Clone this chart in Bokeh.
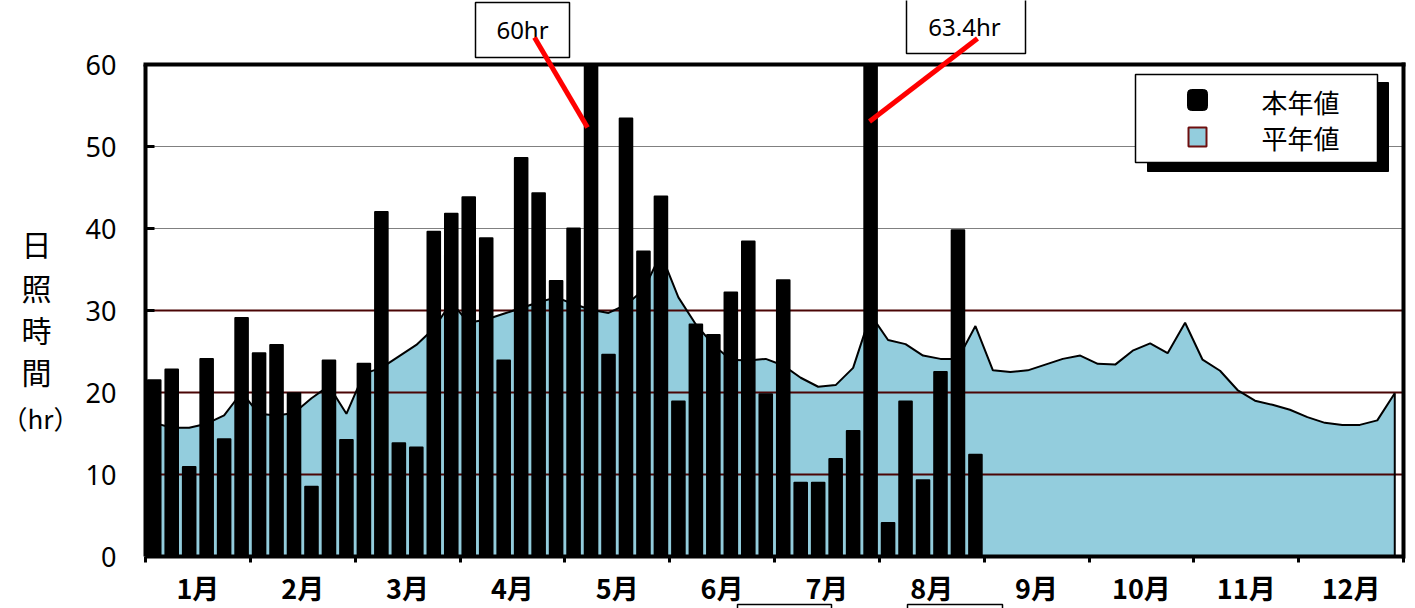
from bokeh.plotting import figure
from bokeh.models import Range1d, FixedTicker, BoxAnnotation, Label, Arrow
from bokeh.embed import file_html
from bokeh.resources import INLINE

# ---------------- data ----------------
months = ["1月", "2月", "3月", "4月", "5月", "6月", "7月", "8月", "9月", "10月", "11月", "12月"]
periods_per_month = 6
yticks = [0, 10, 20, 30, 40, 50, 60]
gray_grid = [40, 50]
red_grid = [10, 20, 30]

# 本年値 (this year, 半旬 sunshine hours, Jan-Aug)
actual = [21.5, 22.8, 10.9, 24.1, 14.3, 29.1,
          24.8, 25.8, 19.9, 8.5, 23.9, 14.2,
          23.5, 42.0, 13.8, 13.3, 39.6, 41.8,
          43.8, 38.8, 23.9, 48.6, 44.3, 33.6,
          40.0, 60.0, 24.6, 53.4, 37.2, 43.9,
          18.9, 28.3, 27.0, 32.2, 38.4, 19.8,
          33.7, 9.0, 9.0, 11.9, 15.3, 63.4,
          4.1, 18.9, 9.3, 22.5, 39.8, 12.4]

# 平年値 (normal values, 72 half-decade periods)
normal = [16.3, 15.7, 15.7, 16.2, 17.2, 20.0,
          17.4, 17.2, 17.5, 19.3, 20.8, 17.4,
          22.3, 23.0, 24.4, 25.8, 27.8, 31.0,
          28.5, 28.9, 29.6, 30.3, 31.0, 31.6,
          30.8, 30.1, 29.7, 30.7, 32.5, 36.9,
          31.6, 28.3, 25.8, 24.0, 23.9, 24.1,
          23.3, 21.8, 20.7, 20.9, 23.0, 29.5,
          26.4, 25.9, 24.5, 24.1, 24.1, 28.1,
          22.7, 22.5, 22.7, 23.4, 24.1, 24.5,
          23.5, 23.4, 25.1, 26.0, 24.8, 28.5,
          24.0, 22.65, 20.3, 19.0, 18.5, 17.9,
          17.0, 16.3, 16.05, 16.05, 16.6, 19.9]

callouts = ["60hr", "63.4hr"]
legend_names = ["本年値", "平年値"]
ytitle = ["日", "照", "時", "間", "（hr）"]

# ---------------- layout helpers (page pixel -> data) ----------------
W, H = 1415, 608
n_periods = len(normal)
YMAX = 60
FRAME_L, FRAME_T, FRAME_W, FRAME_H = 145, 64, 1258, 492
DXU = FRAME_W / n_periods
DYU = FRAME_H / YMAX
def px(x_page):
    return (x_page - FRAME_L) / DXU
def py(y_page):
    return (FRAME_T + FRAME_H - y_page) / DYU

AREA = "#93CDDD"
DARKRED = "#4A0505"
CJK = "Noto Sans CJK JP"

p = figure(width=W, height=H, output_backend="svg", toolbar_location=None,
           x_range=Range1d(px(0), px(W)), y_range=Range1d(py(H), py(0)),
           min_border=0, min_border_left=0, min_border_right=0,
           min_border_top=0, min_border_bottom=0)
p.background_fill_color = "white"
p.border_fill_color = "white"
p.outline_line_color = None
p.grid.grid_line_color = None

# x axis at y=0: boundary ticks (minor), month names at month centres
boundaries = list(range(0, n_periods + 1, periods_per_month))
centres = [k * periods_per_month + periods_per_month // 2 for k in range(len(months))]
p.xaxis.fixed_location = 0
p.xaxis.bounds = (0, n_periods)
p.xaxis.ticker = FixedTicker(ticks=centres, minor_ticks=boundaries)
p.xaxis.major_label_overrides = {c: m for c, m in zip(centres, months)}
p.xaxis.major_tick_line_color = None
p.xaxis.minor_tick_line_color = "black"
p.xaxis.minor_tick_in = 0
p.xaxis.minor_tick_out = 6
p.xaxis.minor_tick_line_width = 3
p.xaxis.axis_line_width = 4
p.xaxis.major_label_text_font = CJK
p.xaxis.major_label_text_font_style = "bold"
p.xaxis.major_label_text_font_size = "27px"
p.xaxis.major_label_text_color = "black"
p.xaxis.major_label_standoff = 5

# y axis at x=0
p.yaxis.fixed_location = 0
p.yaxis.bounds = (0, YMAX)
p.yaxis.ticker = FixedTicker(ticks=yticks)
p.yaxis.major_tick_in = 9
p.yaxis.major_tick_out = 0
p.yaxis.major_tick_line_width = 3
p.yaxis.minor_tick_line_color = None
p.yaxis.axis_line_width = 4
p.yaxis.major_label_text_font = "Noto Sans"
p.yaxis.major_label_text_font_size = "27px"
p.yaxis.major_label_text_color = "black"
p.yaxis.major_label_standoff = 29

# normal-value area
xc = [i + 0.5 for i in range(n_periods)]
p.patch(xc + [xc[-1], xc[0]], normal + [0, 0], fill_color=AREA, line_color=None)
p.segment(x0=[0] * len(gray_grid), y0=gray_grid, x1=[n_periods] * len(gray_grid), y1=gray_grid,
          line_color="#808080", line_width=1)
p.segment(x0=[0] * len(red_grid), y0=red_grid, x1=[n_periods] * len(red_grid), y1=red_grid,
          line_color=DARKRED, line_width=2)
p.line(xc, normal, line_color="black", line_width=2)
p.segment(x0=[xc[-1]], y0=[0], x1=[xc[-1]], y1=[normal[-1]], line_color="black", line_width=2)

# this-year bars (clipped at the plot-area top, as in the original)
shown = [min(v, YMAX) for v in actual]
p.vbar(x=xc[:len(actual)], top=shown, bottom=0, width=0.72,
       fill_color="black", line_color="black", line_width=2, line_join="round")

# plot-area border (top and right)
p.segment(x0=[0, n_periods], y0=[YMAX, 0], x1=[n_periods, n_periods], y1=[YMAX, YMAX],
          line_color="black", line_width=4, line_cap="square")

def box(l, r, t, b, fill="white", line="black", lw=1.5, **kw):
    p.add_layout(BoxAnnotation(left=px(l), right=px(r), top=py(t), bottom=py(b),
                               fill_color=fill, fill_alpha=1, line_color=line, line_alpha=1,
                               line_width=lw, **kw))

def label(x, y, text, font, size, **kw):
    p.add_layout(Label(x=px(x), y=py(y), text=text, text_align="center", text_baseline="middle",
                       text_font=font, text_font_size=size, text_color="black", **kw))

# y-axis title (stacked characters)
for ch, yc in zip(ytitle[:4], [242, 286, 328, 370]):
    label(36, yc, ch, CJK, "30px")
label(40, 417, ytitle[4], CJK, "26px")

# callout boxes above the plot area
box(475, 569, 2, 57)
box(906, 1025, -5, 53)
label(522, 29, callouts[0], "Noto Sans", "24px")
label(964, 26, callouts[1], "Noto Sans", "24px")
p.add_layout(Arrow(x_start=px(534), y_start=py(37), x_end=px(587), y_end=py(127), start=None, end=None,
                   line_color="#FF0000", line_width=5))
p.add_layout(Arrow(x_start=px(977), y_start=py(38), x_end=px(869), y_end=py(121), start=None, end=None,
                   line_color="#FF0000", line_width=5))

# empty boxes cut by the lower picture edge
box(737, 831, 604, 620)
box(907, 1002, 604, 620)

# legend with drop shadow
box(1147, 1388, 82, 171, fill="black", lw=1)
box(1135, 1377, 74, 162)
box(1187, 1207, 89, 110, fill="black", lw=1, border_radius=4)
box(1188, 1206, 127, 146, fill=AREA, line="#6E0E0E", lw=2)
label(1300, 101, legend_names[0], CJK, "26px")
label(1300, 137, legend_names[1], CJK, "26px")

open("out.html", "w").write(file_html(p, INLINE))
